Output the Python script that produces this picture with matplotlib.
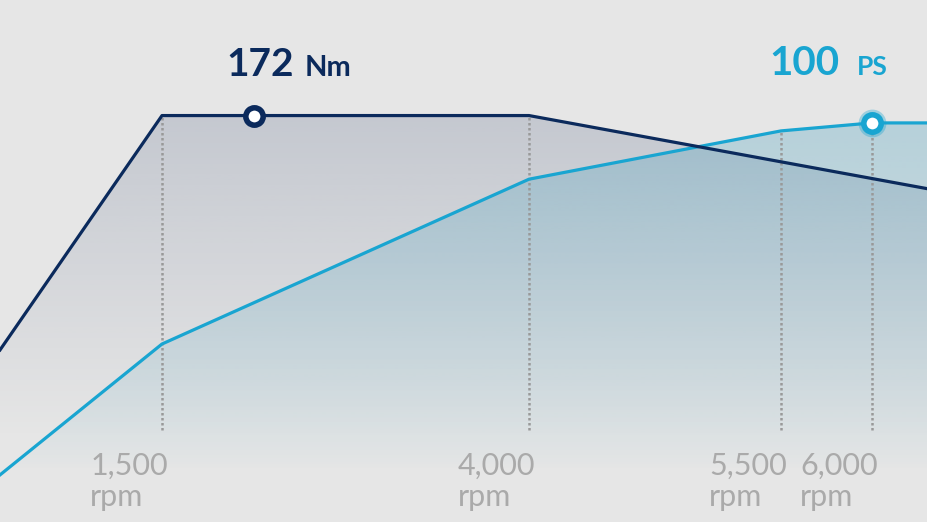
import matplotlib
matplotlib.use('Agg')
import matplotlib.pyplot as plt
import numpy as np

# torque curve (Nm) and power curve (PS) against engine speed
torque_rpm = [600, 1500, 4000, 6300]
torque_nm = [72.8, 172, 172, 141]
power_rpm = [600, 1500, 4000, 5500, 6000, 6300]
power_ps = [11.8, 44.6, 85.9, 98.0, 100, 100]

peak_torque = 172
peak_torque_rpm = 2130
peak_power = 100
peak_power_rpm = 6000

tick_rpm = [1500, 4000, 5500, 6000]
tick_labels = ["1,500\nrpm", "4,000\nrpm", "5,500\nrpm", "6,000\nrpm"]

navy = '#0b2a5c'
cyan = '#19a5d1'
bg = '#e6e6e6'
grey_txt = '#aaaaaa'
font = ['Lato', 'DejaVu Sans']

# the rpm axis of the chart is not linear, so map it piecewise
scale_rpm = np.array([600, 1500, 4000, 5500, 6000, 6300])
scale_pos = np.array([0, 162, 529, 781, 872, 928]) / 928.


def fwd(x):
    return np.interp(np.asarray(x, float), scale_rpm, scale_pos)


def inv(x):
    return np.interp(np.asarray(x, float), scale_pos, scale_rpm)


T_TOP = 220.9
P_TOP = 130.8

fig = plt.figure(figsize=(9.28, 5.22), dpi=100)
fig.patch.set_facecolor(bg)
ax = fig.add_axes([0, 0, 1, 1])
ax.set_xscale('function', functions=(fwd, inv))
ax.set_autoscale_on(False)
ax2 = ax.twinx()
ax2.set_autoscale_on(False)
ax.set_xlim(600, 6300)
ax.set_ylim(0, P_TOP)
ax2.set_ylim(0, T_TOP)
ax.axis('off')
ax2.axis('off')

# gradient fills, clipped to the area below each curve
yy = np.linspace(1, 0, 400)[:, None]

grad_t = np.zeros((400, 1, 4))
grad_t[..., :3] = np.array([90, 106, 138]) / 255.
grad_t[..., 3] = np.clip((yy - 0.16) / (0.78 - 0.16), 0, 1) * 0.24

grad_p = np.zeros((400, 1, 4))
grad_p[..., :3] = np.array([70, 160, 190]) / 255.
grad_p[..., 3] = np.clip((yy - 0.10) / (0.77 - 0.10), 0, 1) ** 0.7 * 0.3

poly_t = ax2.fill_between(torque_rpm, torque_nm, 0, lw=0, facecolor='none')
poly_p = ax.fill_between(power_rpm, power_ps, 0, lw=0, facecolor='none')

im_t = ax.imshow(grad_t, extent=[0, 1, 0, 1], transform=ax.transAxes,
                 aspect='auto', interpolation='bilinear', zorder=1)
im_t.set_clip_path(poly_t.get_paths()[0], ax2.transData)
im_p = ax.imshow(grad_p, extent=[0, 1, 0, 1], transform=ax.transAxes,
                 aspect='auto', interpolation='bilinear', zorder=1)
im_p.set_clip_path(poly_p.get_paths()[0], ax.transData)
ax.set_xlim(600, 6300)
ax.set_ylim(0, P_TOP)

# dotted guides down from the curves
bottom = 0.176
for r in tick_rpm[:2]:
    top = np.interp(r, torque_rpm, torque_nm) / T_TOP
    ax.axvline(r, ymin=bottom, ymax=top, color='#999999', lw=1.8,
               ls=(0, (1, 1)), zorder=2)
for r in tick_rpm[2:]:
    top = np.interp(r, power_rpm, power_ps) / P_TOP
    ax.axvline(r, ymin=bottom, ymax=top, color='#999999', lw=1.8,
               ls=(0, (1, 1)), zorder=2)

ax.plot(power_rpm, power_ps, color=cyan, lw=2.3, zorder=3,
        solid_joinstyle='round')
ax.plot(peak_power_rpm, peak_power, 'o', ms=20, color=cyan, alpha=0.35,
        mew=0, zorder=4)
ax.plot(peak_power_rpm, peak_power, 'o', ms=12.5, mfc='white', mec=cyan,
        mew=4, zorder=5)

ax2.plot(torque_rpm, torque_nm, color=navy, lw=2.3, zorder=3,
         solid_joinstyle='round')
ax2.plot(peak_torque_rpm, peak_torque, 'o', ms=12.5, mfc='white', mec=navy,
         mew=4, zorder=5)

# peak labels
ax2.annotate(str(peak_torque), xy=(peak_torque_rpm, peak_torque),
             xytext=(-28, 40), textcoords='offset pixels', ha='left',
             va='baseline', fontsize=28, fontweight='bold', color=navy,
             family=font)
ax2.annotate('Nm', xy=(peak_torque_rpm, peak_torque),
             xytext=(50, 40), textcoords='offset pixels', ha='left',
             va='baseline', fontsize=21, fontweight='bold', color=navy,
             family=font)
ax.annotate(str(peak_power), xy=(peak_power_rpm, peak_power),
            xytext=(-103, 48), textcoords='offset pixels', ha='left',
            va='baseline', fontsize=29, fontweight='bold', color=cyan,
            family=font)
ax.annotate('PS', xy=(peak_power_rpm, peak_power),
            xytext=(-15, 48), textcoords='offset pixels', ha='left',
            va='baseline', fontsize=19, fontweight='bold', color=cyan,
            family=font)

# rpm labels
for r, lab in zip(tick_rpm, tick_labels):
    ax.annotate(lab, xy=(r, 0.135), xycoords=ax.get_xaxis_transform(),
                xytext=(6, 0), textcoords='offset pixels', ha='right',
                va='top', multialignment='left', fontsize=22,
                fontweight='normal', color=grey_txt, family=font,
                linespacing=1.15)

fig.savefig('out.png', dpi=100, facecolor=fig.get_facecolor())
